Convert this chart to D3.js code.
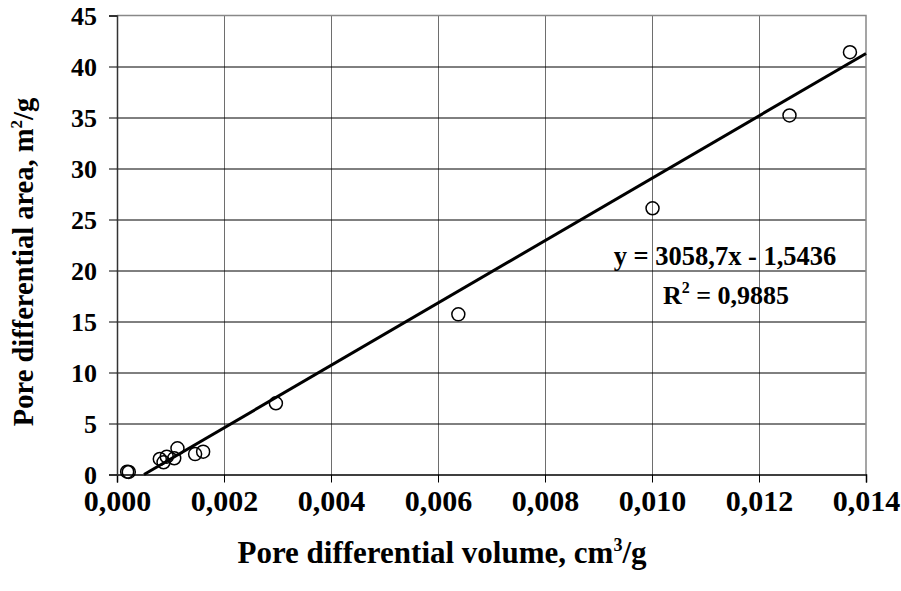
<!DOCTYPE html>
<html>
<head>
<meta charset="utf-8">
<script src="https://cdn.jsdelivr.net/npm/d3@7"></script>
<style>
  body { margin: 0; background: #fff; }
  text { font-family: "Liberation Serif", "Times New Roman", serif; font-weight: bold; fill: #000; }
</style>
</head>
<body>
<div id="chart"></div>
<script>
// pore differential volume (cm3/g) and area (m2/g)
const volume = [0.00019, 0.00022, 0.00080, 0.00087, 0.00093, 0.00107, 0.00113, 0.00146, 0.00161, 0.00297, 0.00638, 0.01001, 0.01257, 0.01370];
const area   = [0.27, 0.25, 1.52, 1.20, 1.75, 1.59, 2.57, 2.00, 2.24, 6.98, 15.7, 26.1, 35.2, 41.4];
const xTicks = [0, 0.002, 0.004, 0.006, 0.008, 0.010, 0.012, 0.014];
const yTicks = [0, 5, 10, 15, 20, 25, 30, 35, 40, 45];
// linear fit shown on the chart
const slope = 3058.7, intercept = -1.5436;

function create_svg() {
  const margin = {top: 15.5, right: 35, bottom: 116.5, left: 117},
    W = 901, H = 591,
    width = W - margin.left - margin.right,
    height = H - margin.top - margin.bottom;

  const svg = d3.select("#chart")
    .append("svg")
      .attr("width", W)
      .attr("height", H)
    .append("g")
      .attr("transform", `translate(${margin.left}, ${margin.top})`);

  const x = d3.scaleLinear().domain([0, 0.014]).range([0, width]);
  const y = d3.scaleLinear().domain([0, 45]).range([height, 0]);

  // vertical grid (grey)
  svg.append("g")
    .selectAll("line")
    .data(xTicks.slice(1, -1))
    .join("line")
      .attr("x1", d => Math.round(x(d)) + 0.5)
      .attr("x2", d => Math.round(x(d)) + 0.5)
      .attr("y1", 0)
      .attr("y2", height)
      .attr("stroke", "#6e6e6e");

  // horizontal grid (black)
  svg.append("g")
    .selectAll("line")
    .data(yTicks.slice(1, -1))
    .join("line")
      .attr("x1", 0)
      .attr("x2", width)
      .attr("y1", d => Math.round(y(d)) + 0.5)
      .attr("y2", d => Math.round(y(d)) + 0.5)
      .attr("stroke", "#000");

  // top + right border
  svg.append("path")
    .attr("d", `M0,${y(45)}H${width}V${height}`)
    .attr("fill", "none")
    .attr("stroke", "#888")
    .attr("stroke-width", 1.5);

  // x axis
  const xAxis = svg.append("g")
    .attr("transform", `translate(0, ${height})`)
    .call(d3.axisBottom(x)
      .tickValues(xTicks)
      .tickSize(8)
      .tickFormat(d => d3.format(".3f")(d).replace(".", ",")));
  xAxis.select(".domain").attr("stroke", "#000").attr("stroke-width", 1.5);
  xAxis.selectAll(".tick line").attr("stroke", "#000");
  xAxis.selectAll("text")
    .attr("y", 15)
    .attr("dy", "0.71em")
    .style("font-size", "30px");

  // y axis
  const yAxis = svg.append("g")
    .call(d3.axisLeft(y)
      .tickValues(yTicks)
      .tickSize(8));
  yAxis.select(".domain").attr("stroke", "#333").attr("stroke-width", 1.5);
  yAxis.selectAll(".tick line").attr("stroke", "#000");
  yAxis.selectAll("text")
    .attr("x", -20)
    .attr("dy", "0.33em")
    .style("font-size", "26px");

  // trend line
  const x0 = -intercept / slope;
  const fit = [x0, 0.014].map(v => ({v: v, a: slope * v + intercept}));
  svg.append("path")
    .datum(fit)
    .attr("fill", "none")
    .attr("stroke", "#000")
    .attr("stroke-width", 3)
    .attr("d", d3.line().x(d => x(d.v)).y(d => y(d.a)));

  // points
  svg.append("g")
    .selectAll("circle")
    .data(volume.map((v, i) => ({v: v, a: area[i]})))
    .join("circle")
      .attr("cx", d => x(d.v))
      .attr("cy", d => y(d.a))
      .attr("r", 6.5)
      .attr("fill", "none")
      .attr("stroke", "#000")
      .attr("stroke-width", 1.5);

  // equation
  svg.append("text")
    .attr("x", 608)
    .attr("y", 249.5)
    .style("text-anchor", "middle")
    .style("font-size", "26.5px")
    .text("y = 3058,7x - 1,5436");

  const r2 = svg.append("text")
    .attr("x", 609)
    .attr("y", 288.5)
    .style("text-anchor", "middle")
    .style("font-size", "26px");
  r2.append("tspan").text("R");
  r2.append("tspan").attr("dy", -11).style("font-size", "16px").text("2");
  r2.append("tspan").attr("dy", 11).text(" = 0,9885");

  // x axis label
  const xl = svg.append("text")
    .attr("x", 325)
    .attr("y", height + 88)
    .style("text-anchor", "middle")
    .style("font-size", "31px");
  xl.append("tspan").text("Pore differential volume, cm");
  xl.append("tspan").attr("dy", -12).style("font-size", "18px").text("3");
  xl.append("tspan").attr("dy", 12).text("/g");

  // y axis label
  const yl = svg.append("text")
    .attr("transform", "rotate(-90)")
    .attr("x", -height / 2 - 17)
    .attr("y", -84)
    .style("text-anchor", "middle")
    .style("font-size", "28.5px");
  yl.append("tspan").text("Pore differential area, m");
  yl.append("tspan").attr("dy", -11).style("font-size", "17px").text("2");
  yl.append("tspan").attr("dy", 11).text("/g");
}

create_svg();
</script>
</body>
</html>
